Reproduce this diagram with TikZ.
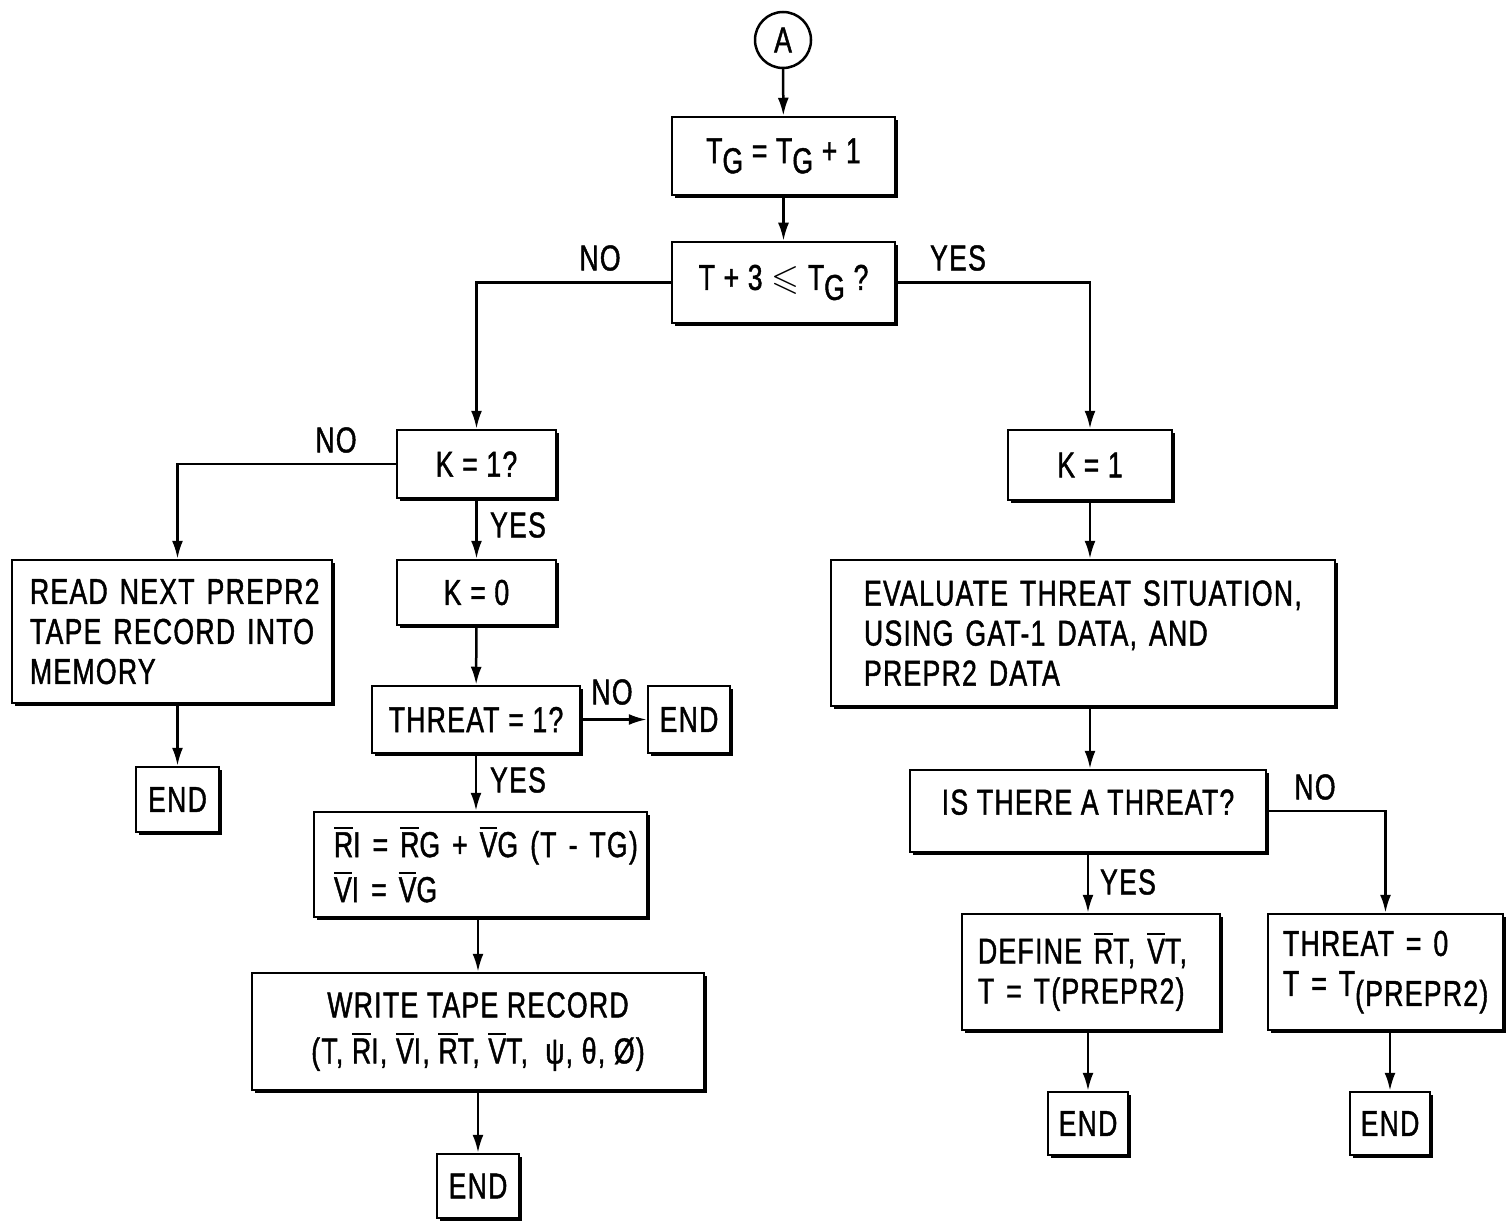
\documentclass[tikz,border=0pt]{standalone}
\usepackage{fontspec}
\usepackage{amssymb}
\setmainfont{Liberation Sans}[FakeStretch=0.74,LetterSpace=3.5,FakeBold=1.2]
\usetikzlibrary{arrows.meta,shadows}
% overbarred letter, lowered subscript, unbreakable line
\newcommand\ob[1]{\leavevmode\vbox{\hrule height 2.2pt\kern 3.5pt\hbox{#1}}}
\newcommand\low[1]{\raisebox{-10pt}{#1}}
\newcommand\nb[1]{\mbox{#1}}
\begin{document}
\begin{tikzpicture}[x=1pt,y=-1pt,
  font=\fontsize{36}{40}\selectfont,
  box/.style={draw, line width=2.5pt, fill=white, inner sep=0pt, align=center,
    drop shadow={shadow xshift=3pt,shadow yshift=-3pt,fill=black,opacity=1}},
  lbox/.style={box, align=left},
  conn/.style={line width=2.5pt, -{Latex[length=18pt,width=11pt]}},
  lab/.style={inner sep=0pt}]
\useasboundingbox (0,0) rectangle (1506,1222);

% centre column
\node[draw, circle, line width=2.5pt, minimum size=56pt, inner sep=0pt] (A) at (783,40) {A};
\node[box, minimum width=223pt, minimum height=78pt] (b1) at (783.5,156) {T\low{G} = T\low{G} + 1};
\node[box, minimum width=223pt, minimum height=81pt] (b2) at (783.5,282.5) {T + 3 $\leqslant$ T\low{G} ?};

% left branch
\node[box, minimum width=159pt, minimum height=68pt] (k1q) at (476.5,464) {K = 1?};
\node[box, minimum width=159pt, minimum height=65pt] (k0) at (476.5,592.5) {K = 0};
\node[box, minimum width=208pt, minimum height=67pt] (t1q) at (476,719.5) {THREAT = 1?};
\node[box, minimum width=82pt, minimum height=67pt] (end2) at (689,719.5) {END};
\node[lbox, minimum width=333pt, minimum height=105pt, text width=293pt] (ri) at (480.5,864.5)
  {\nb{\ob{R}I = \ob{R}G + \ob{V}G (T - TG)}\\[5pt] \nb{\ob{V}I = \ob{V}G}};
\node[box, minimum width=452pt, minimum height=117pt] (wr) at (478,1031.5)
  {WRITE TAPE RECORD\\[6pt] (T, \ob{R}I, \ob{V}I, \ob{R}T, \ob{V}T,\ \ ψ, θ, Ø)};
\node[box, minimum width=82pt, minimum height=64pt] (end3) at (478,1186) {END};
\node[lbox, minimum width=320pt, minimum height=143pt, text width=284pt] (read) at (172,631.5)
  {\nb{READ NEXT PREPR2}\\ \nb{TAPE RECORD INTO}\\ \nb{MEMORY}};
\node[box, minimum width=83pt, minimum height=65pt] (end1) at (177.5,799.5) {END};

% right branch
\node[box, minimum width=164pt, minimum height=70pt] (k1) at (1090,465) {K = 1};
\node[lbox, minimum width=504pt, minimum height=146pt, text width=438pt] (eval) at (1083,633)
  {\nb{EVALUATE THREAT SITUATION,}\\ \nb{USING GAT-1 DATA, AND}\\ \nb{PREPR2 DATA}};
\node[box, minimum width=356pt, minimum height=82pt, text depth=18pt] (isq) at (1088,811) {IS THERE A THREAT?};
\node[lbox, minimum width=258pt, minimum height=116pt, text width=226pt] (def) at (1091,972)
  {\nb{DEFINE \ob{R}T, \ob{V}T,}\\ \nb{T = T(PREPR2)}};
\node[lbox, minimum width=235pt, minimum height=116pt, text width=205pt] (t0) at (1385.5,972)
  {\nb{THREAT = 0}\\ \nb{T = T\low{(PREPR2)}}};
\node[box, minimum width=80pt, minimum height=63pt] (end4) at (1088,1123.5) {END};
\node[box, minimum width=80pt, minimum height=63pt] (end5) at (1390,1123.5) {END};

% connectors
\draw[conn] (A) -- (b1);
\draw[conn] (b1) -- (b2);
\draw[conn] (b2.west) -| (k1q.north);
\draw[conn] (b2.east) -| (k1.north);
\draw[conn] (k1q.west) -| (end1.north |- read.north);
\draw[conn] (end1.north |- read.south) -- (end1.north);
\draw[conn] (k1q) -- (k0);
\draw[conn] (k0) -- (t1q);
\draw[conn] (t1q) -- (end2);
\draw[conn] (t1q.south) -- (t1q.south |- ri.north);
\draw[conn] (ri.south -| wr.north) -- (wr.north);
\draw[conn] (wr) -- (end3);
\draw[conn] (k1.south) -- (k1.south |- eval.north);
\draw[conn] (k1.south |- eval.south) -- (k1.south |- isq.north);
\draw[conn] (isq.south) -- (isq.south |- def.north);
\draw[conn] (isq.east) -| (t0.north);
\draw[conn] (end4.north |- def.south) -- (end4.north);
\draw[conn] (end5.north |- t0.south) -- (end5.north);

% branch labels
\node[lab] (l1) at (600,258) {NO};
\node[lab] (l2) at (958,258) {YES};
\node[lab] (l3) at (336,440) {NO};
\node[lab] (l4) at (518,525) {YES};
\node[lab] (l5) at (612,692) {NO};
\node[lab] (l6) at (518,780) {YES};
\node[lab] (l7) at (1315,787) {NO};
\node[lab] (l8) at (1128,882) {YES};
\end{tikzpicture}
\end{document}
